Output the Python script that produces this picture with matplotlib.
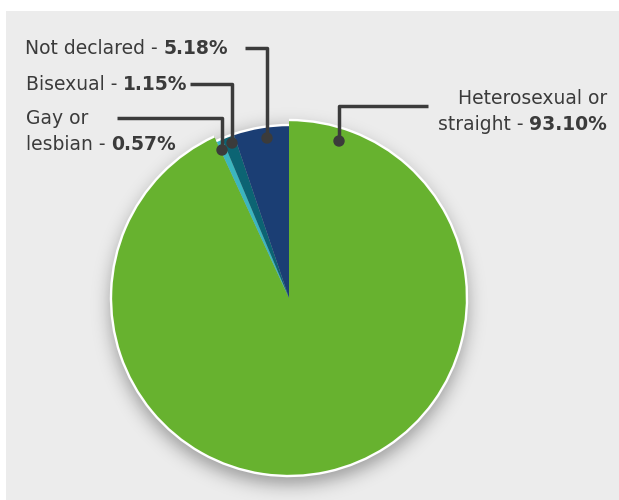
import numpy as np
import matplotlib.pyplot as plt
from matplotlib.patches import Rectangle, Circle, Wedge

# Dados da pizza (sentido horário a partir do topo)
categorias = ["Heterosexual or straight", "Gay or lesbian", "Bisexual", "Not declared"]
valores = [93.10, 0.57, 1.15, 5.18]
cores = ["#67b22f", "#3bb6bf", "#0c6473", "#1b3e74"]

W, H = 619, 500
CX, CY, R = 289, H - 298, 178
TXT = "#3b3b3b"
FONTE = "DejaVu Sans"
TAM = 13.5

fig = plt.figure(figsize=(W / 100, H / 100), dpi=100, facecolor="white")
ax = fig.add_axes([0, 0, 1, 1])

# fundo cinza
ax.add_patch(Rectangle((6, 0), W - 6, H - 11, facecolor="#ececec", edgecolor="none", zorder=0))

# sombra desfocada da pizza (um pouco deslocada para baixo)
xx, yy = np.meshgrid(np.arange(W) + 0.5, np.arange(H) + 0.5)
d = np.hypot(xx - CX, yy - (CY - 8))
t = np.clip((d - (R - 10)) / 22, 0, None)
alfa = 0.28 * np.exp(-t ** 2 * 2.2)
sombra = np.zeros((H, W, 4))
sombra[..., 3] = alfa
ax.imshow(sombra, extent=(0, W, 0, H), origin="lower", zorder=1, interpolation="bilinear")

fatias, _ = ax.pie(valores, colors=cores, startangle=90, counterclock=False,
                   center=(CX, CY), radius=R, frame=True,
                   wedgeprops=dict(edgecolor="none", linewidth=0))
for f in fatias:
    f.set_zorder(3)
# as fatias pequenas ficam um pouco para dentro
for f in fatias[1:]:
    f.set_radius(R - 5)

# contorno branco só na borda externa de cada fatia
for f in fatias:
    ax.add_patch(Wedge(f.center, f.r + 1.2, f.theta1, f.theta2, width=2.4,
                       facecolor="white", edgecolor="none", zorder=4))

ax.set_xlim(0, W)
ax.set_ylim(0, H)
ax.set_aspect("equal")
ax.axis("off")

renderer = fig.canvas.get_renderer()


def rotulo(x, y, normal, negrito, ha="left"):
    """Escreve 'normal' + 'negrito' numa linha só."""
    if ha == "left":
        t = ax.text(x, y, normal, fontsize=TAM, family=FONTE, color=TXT, va="center", ha="left")
        bb = t.get_window_extent(renderer).transformed(ax.transData.inverted())
        ax.text(bb.x1, y, negrito, fontsize=TAM, family=FONTE, color=TXT, va="center",
                ha="left", fontweight="bold")
    else:
        t = ax.text(x, y, negrito, fontsize=TAM, family=FONTE, color=TXT, va="center",
                    ha="right", fontweight="bold")
        bb = t.get_window_extent(renderer).transformed(ax.transData.inverted())
        ax.text(bb.x0, y, normal, fontsize=TAM, family=FONTE, color=TXT, va="center", ha="right")


def linha(pontos):
    xs = [p[0] for p in pontos]
    ys = [H - p[1] for p in pontos]
    ax.plot(xs, ys, color=TXT, lw=2.5, solid_capstyle="butt", zorder=5)
    ax.add_patch(Circle((xs[-1], ys[-1]), 5, color=TXT, zorder=6))


# rótulos e linhas de chamada
rotulo(25, H - 48, "Not declared - ", f"{valores[3]:.2f}%")
linha([(245, 48), (267, 48), (267, 138)])

rotulo(26, H - 85, "Bisexual - ", f"{valores[2]:.2f}%")
linha([(190, 84), (232, 84), (232, 143)])

ax.text(26, H - 119, "Gay or", fontsize=TAM, family=FONTE, color=TXT, va="center")
rotulo(26, H - 145, "lesbian - ", f"{valores[1]:.2f}%")
linha([(117, 118), (222, 118), (222, 150)])

ax.text(607, H - 98, "Heterosexual or", fontsize=TAM, family=FONTE, color=TXT,
        va="center", ha="right")
rotulo(607, H - 124, "straight - ", f"{valores[0]:.2f}%", ha="right")
linha([(428, 106), (339, 106), (339, 141)])

fig.savefig("out.png", dpi=100, facecolor="white")
